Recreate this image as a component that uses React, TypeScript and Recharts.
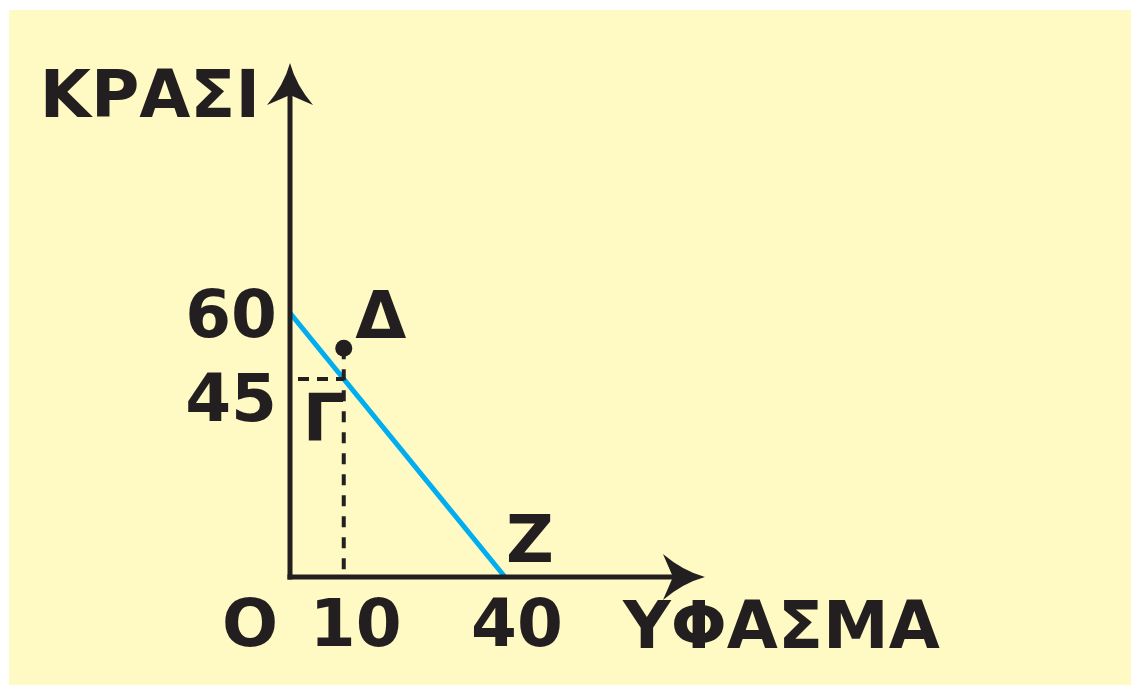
import { ComposedChart, Line, XAxis, YAxis, ReferenceLine, ReferenceDot } from "recharts";

const budgetLine = [
  { x: 0, y: 60 },
  { x: 40, y: 0 },
];
const pointGamma = { x: 10, y: 45 };
const pointDelta = { x: 10, y: 52 };
const pointZ = { x: 40, y: 0 };
const xTicks = [0, 10, 40];
const yTicks = [45, 60];
const xTitle = "ΥΦΑΣΜΑ";
const yTitle = "ΚΡΑΣΙ";
const originLabel = "O";
const xMax = 80;
const yMax = 120;
const xArrowTip = 77.2;
const yArrowTip = 116.8;

const INK = "#231F20";
const BLUE = "#00AEEF";
const FONT = "'DejaVu Sans', Verdana, sans-serif";
const FS = 66;

const textStyle = { fontFamily: FONT, fontSize: FS, fontWeight: 700, fill: INK };

// axis line with a curved arrowhead and its title
const axisArrow = (title: string, tx: number, ty: number, anchor: "start" | "end") => (p: any) => {
  const { x1, y1, x2, y2 } = p;
  const ang = Math.atan2(y2 - y1, x2 - x1);
  const ex = x2 - Math.cos(ang) * 30;
  const ey = y2 - Math.sin(ang) * 30;
  return (
    <g>
      <line x1={x1} y1={y1} x2={ex} y2={ey} stroke={INK} strokeWidth={5} strokeLinecap="square" />
      <path
        transform={`translate(${x2},${y2}) rotate(${(ang * 180) / Math.PI})`}
        d="M0,0 Q-22,-6 -42,-23 L-32,0 L-42,23 Q-22,6 0,0 Z"
        fill={INK}
      />
      <text x={x2 + tx} y={y2 + ty} textAnchor={anchor} {...textStyle}>
        {title}
      </text>
    </g>
  );
};

const XTick = ({ x, y, payload }: any) => {
  const isOrigin = payload.value === 0;
  return (
    <text x={isOrigin ? x - 40 : x + 12} y={y} dy="0.73em" textAnchor="middle" {...textStyle}>
      {isOrigin ? originLabel : payload.value}
    </text>
  );
};

// the top label sits on its tick, lower ones drop just under the dashed guide
const YTick = ({ x, y, payload }: any) => {
  const isTop = payload.value === Math.max(...yTicks);
  return (
    <text x={x} y={y} dy={isTop ? "0.36em" : "0.63em"} textAnchor="end" {...textStyle}>
      {payload.value}
    </text>
  );
};

const pointLabel = (label: string, dx: number, dy: number, dot: boolean) => (p: any) => (
  <g>
    {dot && <circle cx={p.cx} cy={p.cy} r={8.5} fill={INK} />}
    <text x={p.cx + dx} y={p.cy + dy} textAnchor="middle" {...textStyle}>
      {label}
    </text>
  </g>
);

export default function App() {
  return (
    <div style={{ position: "absolute", left: 0, top: 0, width: 1131, height: 685, background: "#fff" }}>
      <div style={{ position: "absolute", left: 9, top: 10, right: 0, bottom: 0, background: "#FFF9C3" }} />
      <div style={{ position: "absolute", left: 0, top: 0 }}>
        <ComposedChart width={1131} height={685} margin={{ top: 49, right: 411, bottom: 78, left: 230 }}>
          <XAxis
            dataKey="x"
            type="number"
            domain={[0, xMax]}
            ticks={xTicks}
            interval={0}
            axisLine={false}
            tickLine={false}
            tickSize={0}
            tickMargin={21}
            tick={<XTick />}
            height={30}
          />
          <YAxis
            type="number"
            domain={[0, yMax]}
            ticks={yTicks}
            interval={0}
            axisLine={false}
            tickLine={false}
            tickSize={0}
            tickMargin={13}
            tick={<YTick />}
            width={60}
          />
          <Line
            data={budgetLine}
            dataKey="y"
            type="linear"
            stroke={BLUE}
            strokeWidth={5}
            dot={false}
            activeDot={false}
            isAnimationActive={false}
          />
          <ReferenceLine
            segment={[{ x: 0, y: pointGamma.y }, { x: pointGamma.x, y: pointGamma.y }]}
            stroke={INK}
            strokeWidth={4}
            strokeDasharray="11 8"
            strokeDashoffset={11}
          />
          <ReferenceLine
            segment={[{ x: pointDelta.x, y: pointDelta.y }, { x: pointDelta.x, y: 0 }]}
            stroke={INK}
            strokeWidth={4}
            strokeDasharray="11 10"
          />
          <ReferenceLine
            segment={[{ x: 0, y: 0 }, { x: xArrowTip, y: 0 }]}
            shape={axisArrow(xTitle, -82, 71, "start")}
          />
          <ReferenceLine
            segment={[{ x: 0, y: 0 }, { x: 0, y: yArrowTip }]}
            shape={axisArrow(yTitle, -30, 54, "end")}
          />
          <ReferenceDot x={pointDelta.x} y={pointDelta.y} r={0} shape={pointLabel("Δ", 37, -10, true)} />
          <ReferenceDot x={pointGamma.x} y={pointGamma.y} r={0} shape={pointLabel("Γ", -20, 62, false)} />
          <ReferenceDot x={pointZ.x} y={pointZ.y} r={0} shape={pointLabel("Z", 25, -15, false)} />
        </ComposedChart>
      </div>
    </div>
  );
}
